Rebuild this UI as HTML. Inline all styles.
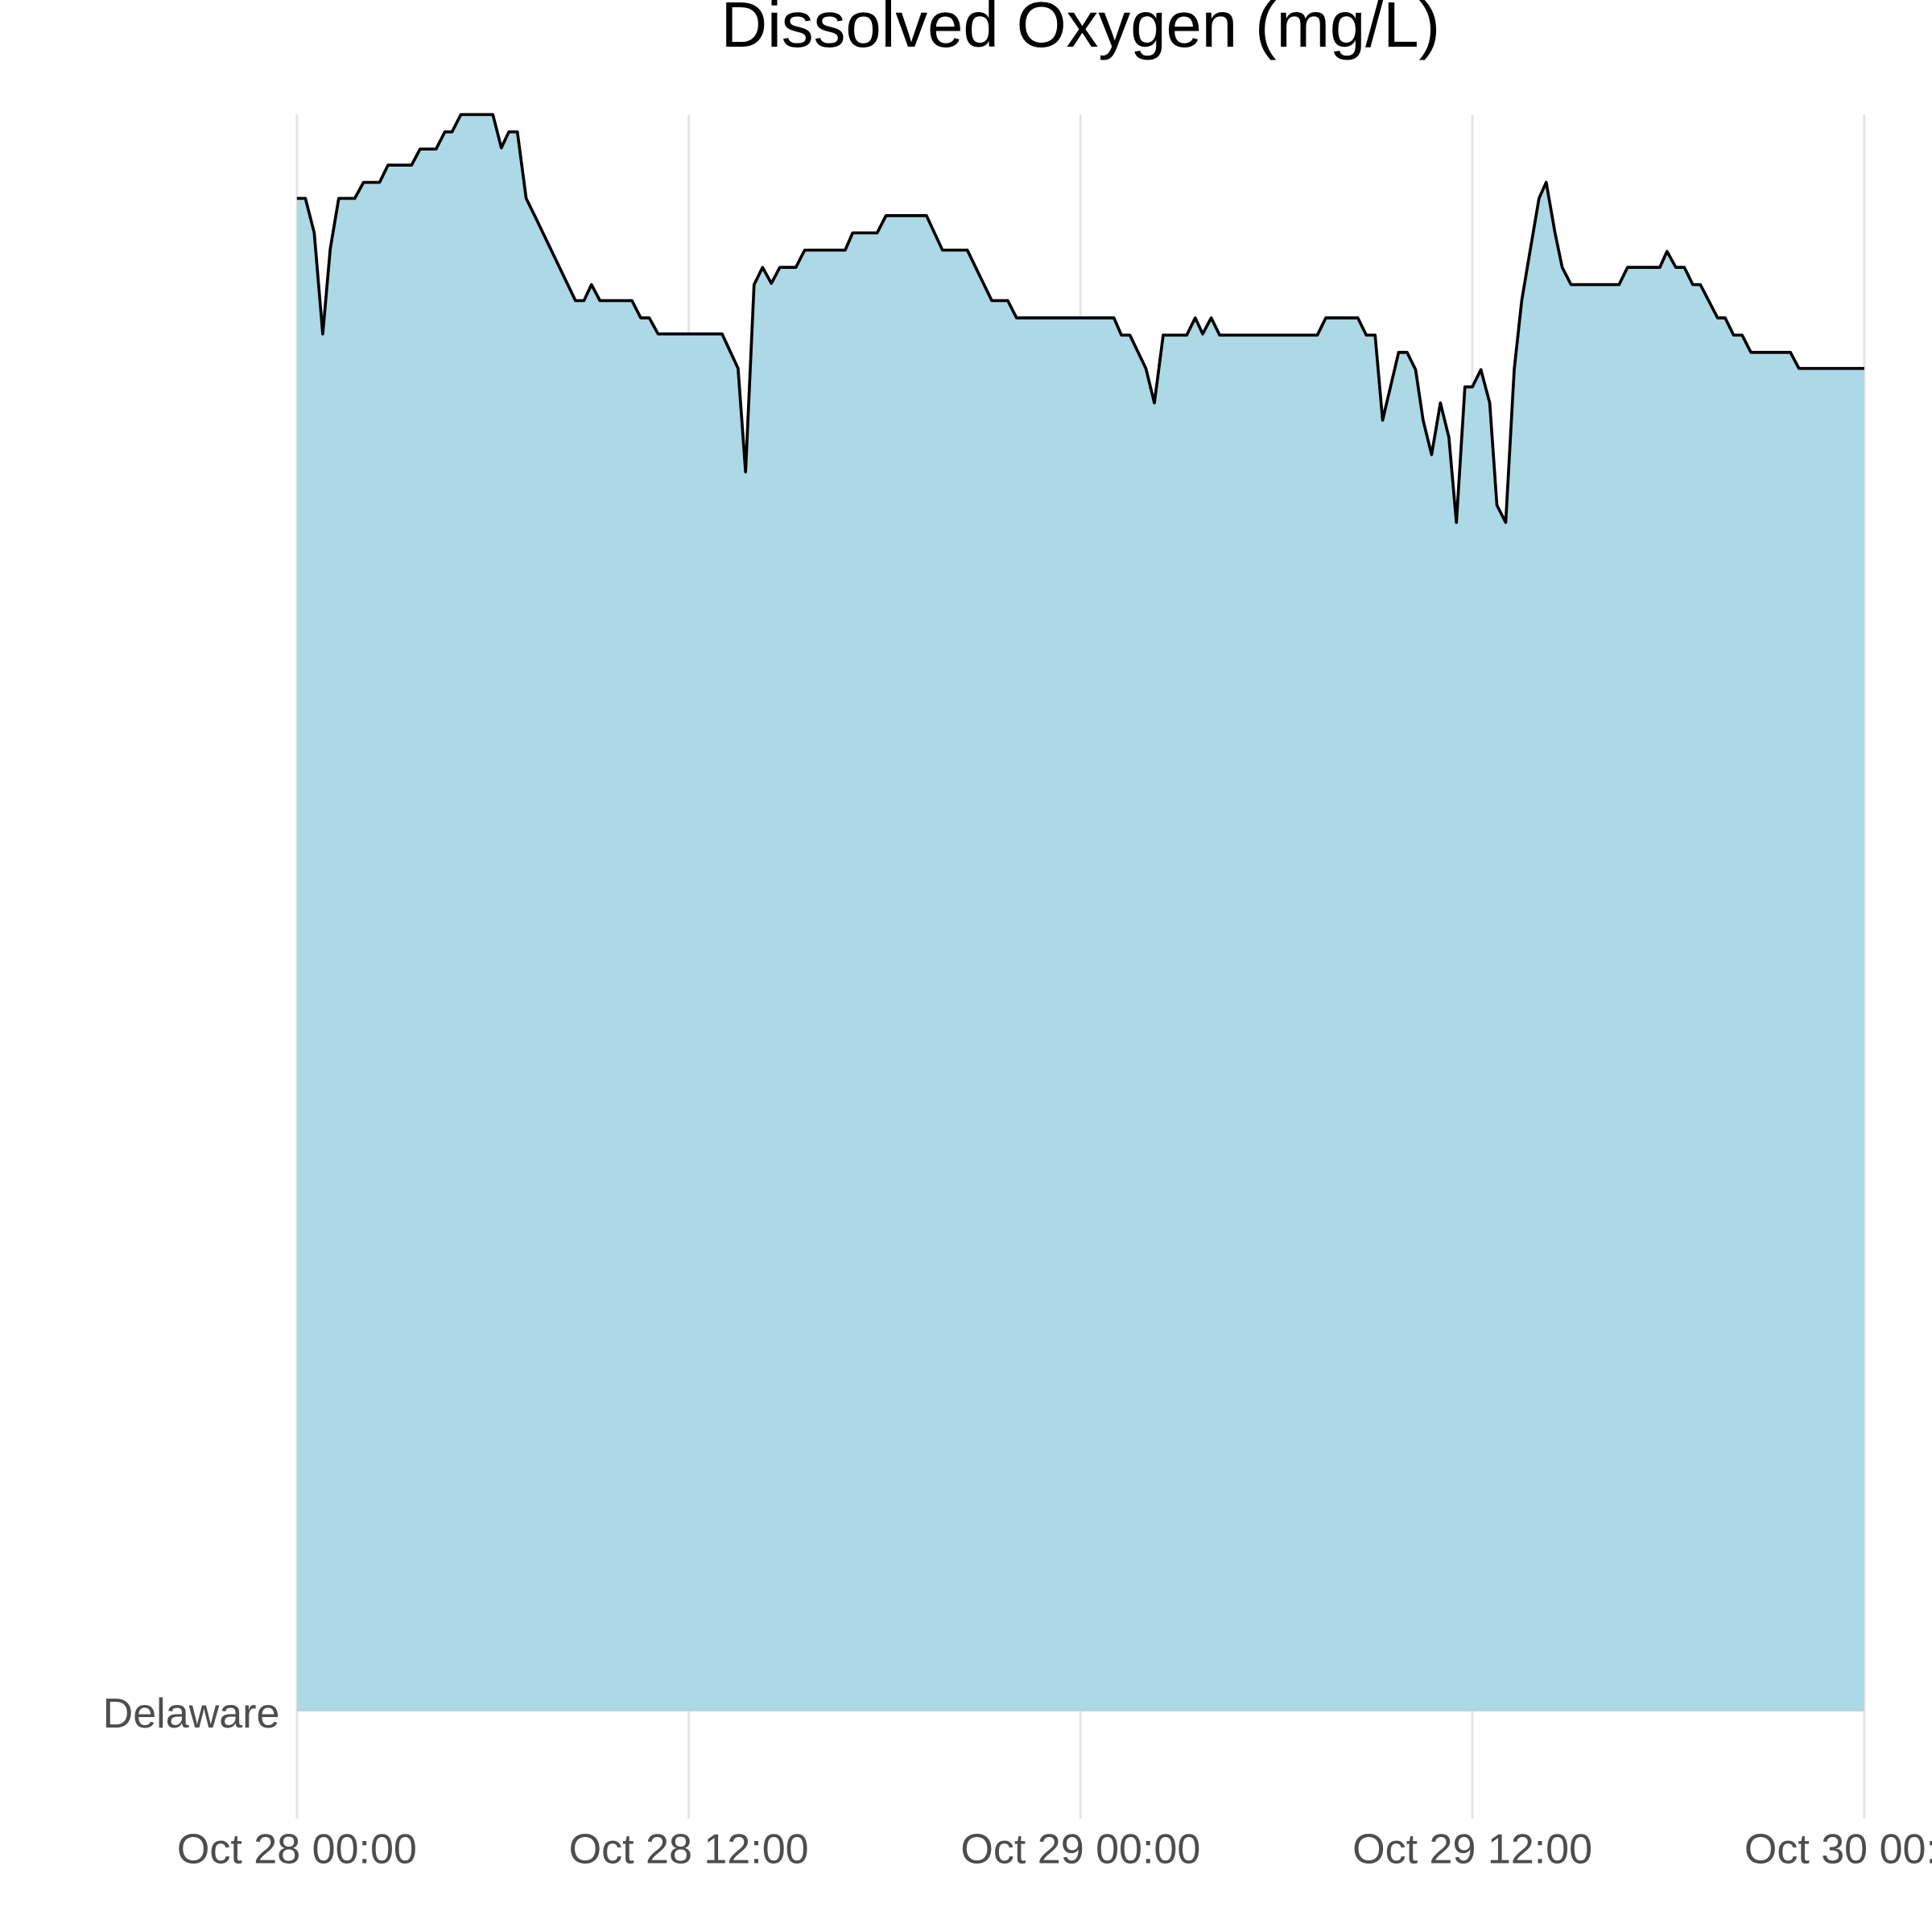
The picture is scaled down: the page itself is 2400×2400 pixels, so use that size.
<!DOCTYPE html>
<html><head><meta charset="utf-8"><style>html,body{margin:0;padding:0;background:#fff}svg{display:block}</style></head>
<body>
<svg id="chart" width="2400" height="2400" viewBox="0 0 1568 1568" xmlns="http://www.w3.org/2000/svg" font-family="Liberation Sans, Arial, sans-serif">
<rect width="1568" height="1568" fill="#fff"/>
<text x="877" y="38" font-size="52" text-anchor="middle" fill="#000">Dissolved Oxygen (mg/L)</text>
<g id="grid"></g>
<g id="area"></g>
<g id="xticks"></g>
<text x="227" y="1402" font-size="34" text-anchor="end" fill="#4d4d4d">Delaware</text>
</svg>
<script>
const hours = [0,0.26,0.53,0.79,1.02,1.28,1.77,2.04,2.53,2.79,3.51,3.77,4.26,4.53,4.75,5.02,6.0,6.26,6.49,6.75,7.02,7.28,8.53,8.79,9.02,9.28,10.26,10.53,10.79,11.06,13.02,13.51,13.74,14.0,14.26,14.53,14.79,15.28,15.55,16.79,17.02,17.77,18.04,19.28,19.77,20.53,21.28,21.77,22.04,25.02,25.25,25.51,26.0,26.26,26.53,27.25,27.51,27.74,28.0,28.26,31.25,31.51,32.49,32.75,33.02,33.25,33.74,34.0,34.26,34.49,34.75,35.02,35.28,35.51,35.77,36.0,36.26,36.53,36.75,37.02,37.28,37.51,37.77,38.04,38.26,38.53,38.75,39.02,40.49,40.75,41.74,41.96,42.23,42.49,42.75,42.98,43.51,43.74,44.0,44.26,44.53,45.74,46.0,48.0];
const oxygen = [12.28,12.28,12.00,11.18,11.87,12.28,12.28,12.41,12.41,12.55,12.55,12.68,12.68,12.82,12.82,12.96,12.96,12.69,12.82,12.82,12.28,12.14,11.45,11.45,11.58,11.45,11.45,11.31,11.31,11.18,11.18,10.90,10.06,11.58,11.72,11.59,11.72,11.72,11.86,11.86,12.00,12.00,12.14,12.14,11.86,11.86,11.45,11.45,11.31,11.31,11.17,11.17,10.90,10.62,11.17,11.17,11.31,11.18,11.31,11.17,11.17,11.31,11.31,11.17,11.17,10.48,11.03,11.03,10.89,10.48,10.20,10.62,10.34,9.65,10.75,10.75,10.89,10.62,9.79,9.65,10.89,11.45,11.86,12.28,12.41,12.00,11.72,11.58,11.58,11.72,11.72,11.85,11.72,11.72,11.58,11.58,11.31,11.31,11.17,11.17,11.03,11.03,10.90,10.90];
const tickHours = [0,12,24,36,48];
const tickLabels = ["Oct 28 00:00","Oct 28 12:00","Oct 29 00:00","Oct 29 12:00","Oct 30 00:00"];
const NS="http://www.w3.org/2000/svg";
const x = h => 241 + (h/48)*1272;
const y = v => 1389 - v*100;
const grid=document.getElementById('grid'), area=document.getElementById('area'), xt=document.getElementById('xticks');
tickHours.forEach((h,i)=>{
  const l=document.createElementNS(NS,'line');
  l.setAttribute('x1',x(h));l.setAttribute('x2',x(h));l.setAttribute('y1',93);l.setAttribute('y2',1476);
  l.setAttribute('stroke','#e5e5e5');l.setAttribute('stroke-width','2');
  
  
  grid.appendChild(l);
  const t=document.createElementNS(NS,'text');
  t.setAttribute('x',x(h));t.setAttribute('y',1512);t.setAttribute('font-size','34');
  t.setAttribute('text-anchor','middle');t.setAttribute('fill','#4d4d4d');
  t.textContent=tickLabels[i];
  
  
  xt.appendChild(t);
});
let pts=hours.map((h,i)=>x(h).toFixed(2)+','+y(oxygen[i]).toFixed(2));
const fill=document.createElementNS(NS,'polygon');
fill.setAttribute('points',x(hours[0])+','+y(0)+' '+pts.join(' ')+' '+x(hours[hours.length-1])+','+y(0));
fill.setAttribute('fill','#add8e6');


area.appendChild(fill);
const line=document.createElementNS(NS,'polyline');
line.setAttribute('points',pts.join(' '));
line.setAttribute('fill','none');line.setAttribute('stroke','#000');line.setAttribute('stroke-width','2.4');
line.setAttribute('stroke-linejoin','round');


area.appendChild(line);
</script>
</body></html>
